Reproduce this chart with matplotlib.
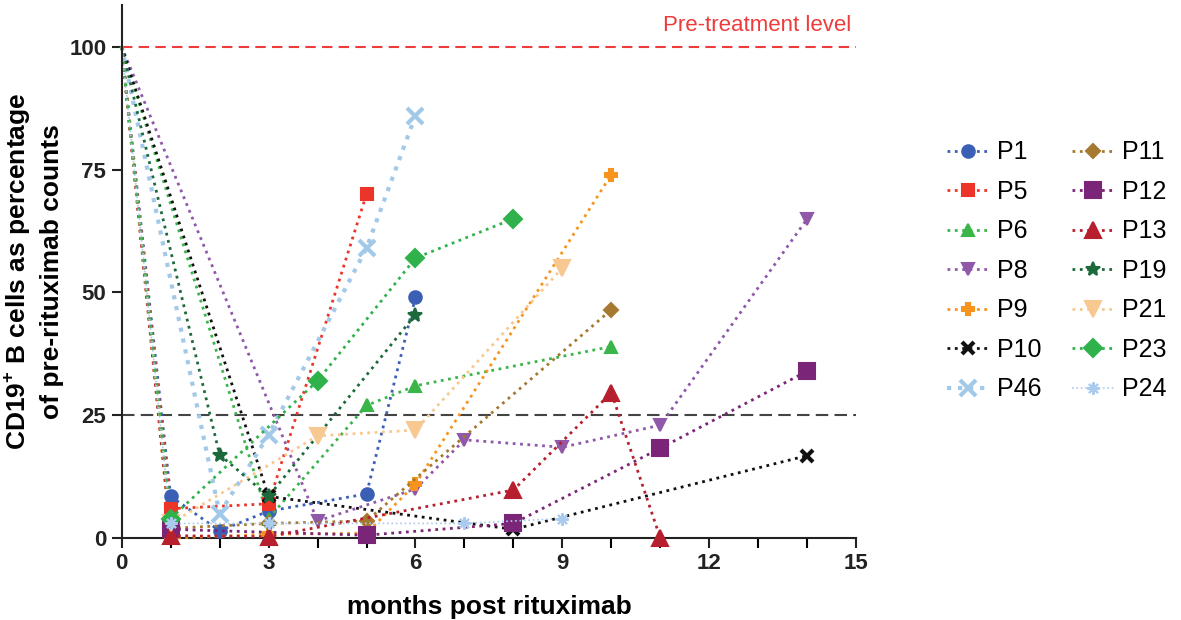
import matplotlib
matplotlib.use("Agg")
import matplotlib.pyplot as plt
from matplotlib.ticker import MultipleLocator

plt.rcParams["font.family"] = ["Liberation Sans", "DejaVu Sans"]
plt.rcParams["mathtext.fontset"] = "custom"
plt.rcParams["mathtext.bf"] = "Liberation Sans:bold"

# months post rituximab / % of pre-treatment CD19+ counts
p1_x = [0, 1, 2, 3, 5, 6]
p1_y = [100, 8.5, 1.5, 5.5, 9, 49]
p5_x = [0, 1, 3, 5]
p5_y = [100, 6, 7, 70]
p6_x = [0, 3, 5, 6, 10]
p6_y = [100, 4, 27, 31, 39]
p8_x = [0, 4, 6, 7, 9, 11, 14]
p8_y = [100, 3.5, 10, 20, 18.5, 23, 65]
p9_x = [0, 1, 3, 5, 6, 10]
p9_y = [100, 0, 0.8, 1, 11, 74]
p10_x = [0, 3, 8, 14]
p10_y = [100, 8.5, 1.8, 16.8]
p46_x = [0, 2, 3, 5, 6]
p46_y = [100, 5, 21, 59, 86]
p11_x = [0, 1, 3, 5, 10]
p11_y = [100, 2, 3, 3.5, 46.5]
p12_x = [0, 1, 5, 8, 11, 14]
p12_y = [100, 1.8, 0.6, 3, 18.3, 34]
p13_x = [0, 1, 3, 8, 10, 11]
p13_y = [100, 0.5, 0.3, 9.8, 29.6, 0]
p19_x = [0, 2, 3, 6]
p19_y = [100, 17, 8.5, 45.5]
p21_x = [0, 1, 4, 6, 9]
p21_y = [100, 3, 20.8, 22, 55]
p23_x = [0, 1, 4, 6, 8]
p23_y = [100, 4, 32, 57, 65]
p24_x = [0, 1, 3, 7, 9]
p24_y = [100, 3, 3, 3, 4]

series = [
    ("P1", p1_x, p1_y, "#3b5fb5", "o", 9, 2.0),
    ("P5", p5_x, p5_y, "#ec3528", "s", 9, 2.0),
    ("P6", p6_x, p6_y, "#3ab54a", "^", 9, 2.0),
    ("P8", p8_x, p8_y, "#8f58a8", "v", 9, 2.0),
    ("P9", p9_x, p9_y, "#f7941d", "P", 9, 2.0),
    ("P10", p10_x, p10_y, "#111111", "x", 9, 2.0),
    ("P46", p46_x, p46_y, "#a3c9e8", "x", 11, 3.0),
    ("P11", p11_x, p11_y, "#a57a30", "D", 7, 2.0),
    ("P12", p12_x, p12_y, "#7a2577", "s", 12, 2.0),
    ("P13", p13_x, p13_y, "#b71f2e", "^", 12, 2.0),
    ("P19", p19_x, p19_y, "#1c6a3c", "*", 10, 2.0),
    ("P21", p21_x, p21_y, "#f8c891", "v", 12, 2.0),
    ("P23", p23_x, p23_y, "#2fb14b", "D", 9, 2.0),
    ("P24", p24_x, p24_y, "#aacbee", (8, 2, 0), 9, 1.2),
]

fig = plt.figure(figsize=(11.81, 6.2), dpi=100)
ax = fig.add_axes([0.103, 0.132, 0.622, 0.86])

ax.axhline(100, color="#ee3b3b", ls=(0, (5, 3)), lw=1.5, zorder=1)
ax.axhline(25, color="#444444", ls=(0, (6, 3)), lw=1.5, zorder=1)
ax.text(14.9, 104.3, "Pre-treatment level", color="#ee3b3b", fontsize=16,
        ha="right", va="center")

for name, xs, ys, col, mk, ms, lw in series:
    mew = 3 if mk == "x" else 1.5
    ax.plot(xs[1:], ys[1:], ls=":", lw=lw, color=col, marker=mk, ms=ms,
            mew=mew, mec=col, mfc=col, label=name, zorder=3)
    ax.plot(xs[:2], ys[:2], ls=":", lw=lw, color=col, zorder=2)

ax.set_xlim(0, 15)
ax.set_ylim(0, 108.5)
ax.xaxis.set_major_locator(MultipleLocator(3))
ax.xaxis.set_minor_locator(MultipleLocator(1))
ax.set_yticks([0, 25, 50, 75, 100])
ax.spines["top"].set_visible(False)
ax.spines["right"].set_visible(False)
for s in ("left", "bottom"):
    ax.spines[s].set_linewidth(1.5)
    ax.spines[s].set_color("#222222")
ax.tick_params(which="major", length=7, width=1.5, labelsize=16, colors="#222222",
               pad=4)
ax.tick_params(which="minor", length=7, width=1.5)
for lab in ax.get_xticklabels() + ax.get_yticklabels():
    lab.set_fontweight("bold")

ax.set_xlabel("months post rituximab", fontsize=19, fontweight="bold", labelpad=15)
ax.set_ylabel("CD19$^{\\mathbf{+}}$ B cells as percentage\nof pre-rituximab counts",
              fontsize=19, fontweight="bold", labelpad=4, linespacing=1.4)
for a in ax.get_lines():
    a.set_clip_on(False)

handles, labels = ax.get_legend_handles_labels()
fig.legend(handles, labels, loc="upper left", bbox_to_anchor=(0.783, 0.81),
           ncol=2, frameon=False, fontsize=18, handlelength=1.7,
           labelspacing=0.62, columnspacing=1.2, handletextpad=0.3)

fig.savefig("out.png", dpi=100)
